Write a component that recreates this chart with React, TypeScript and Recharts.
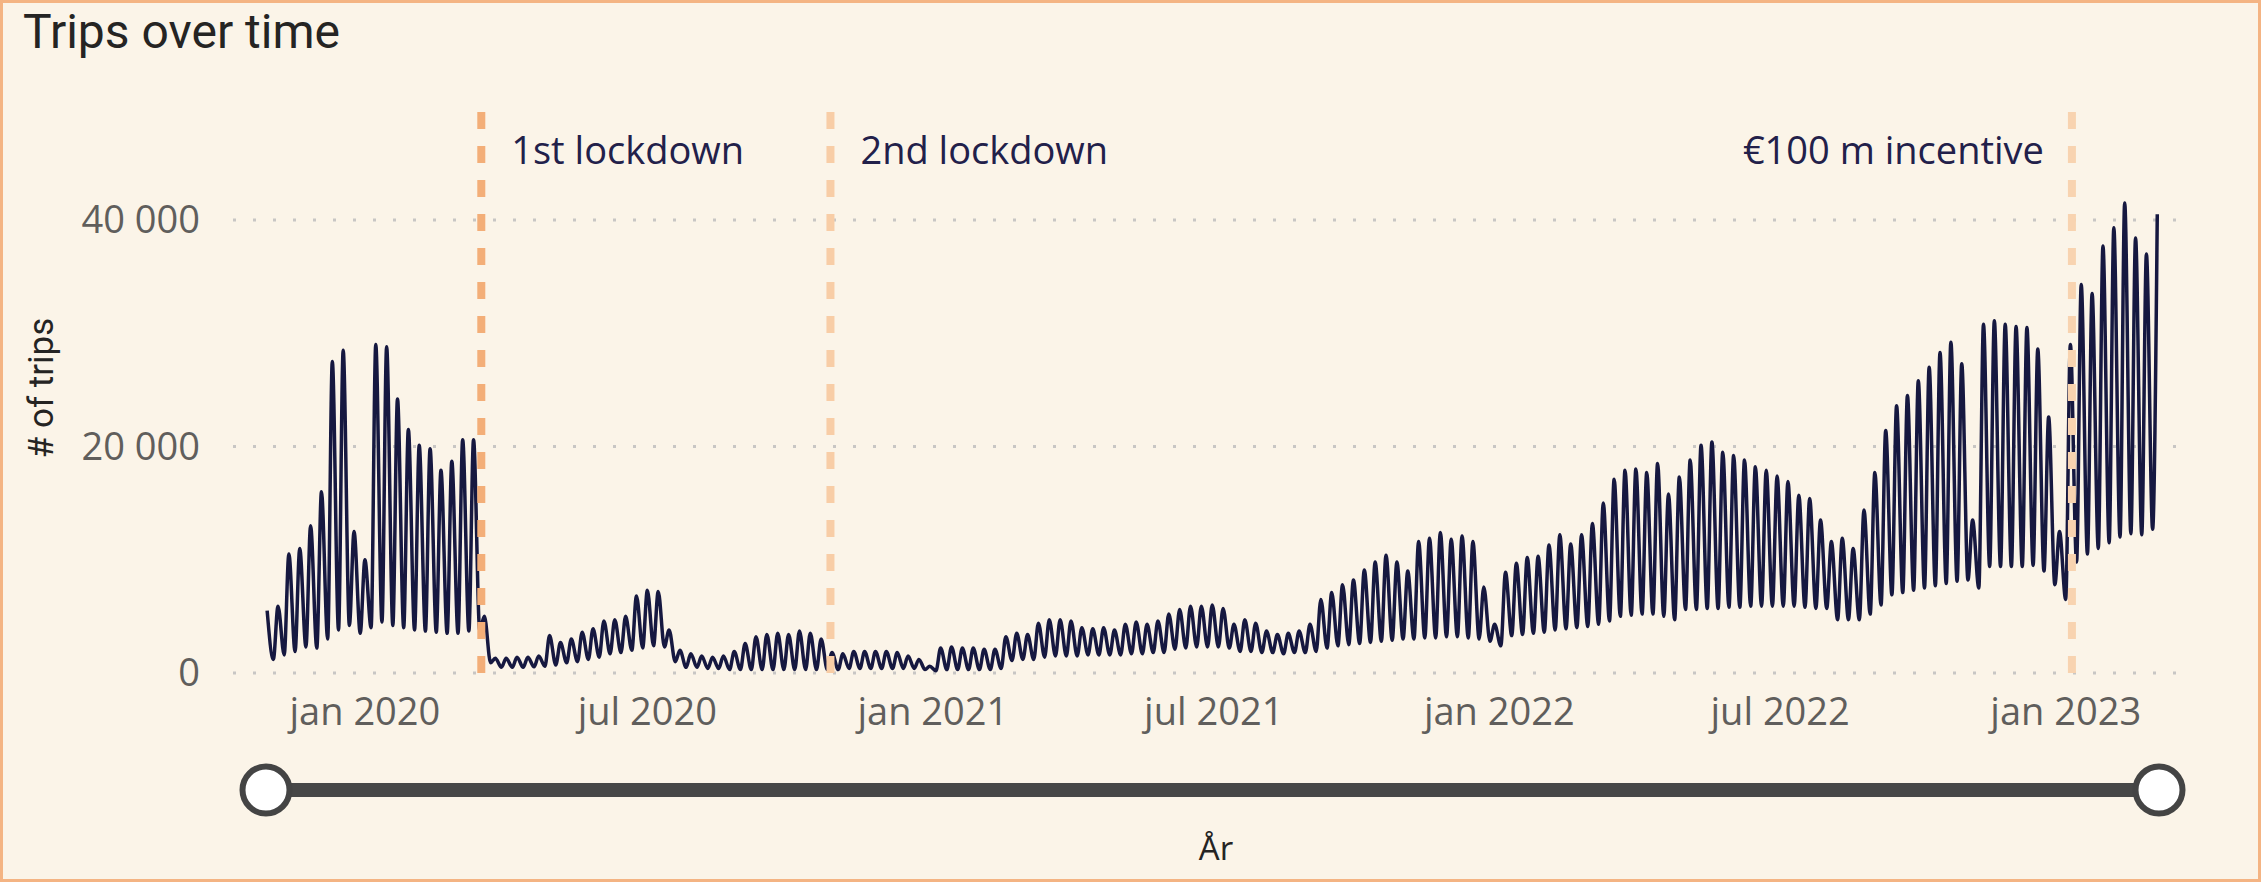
import React from 'react';
import {
  LineChart,
  Line,
  XAxis,
  YAxis,
  CartesianGrid,
  ReferenceLine,
} from 'recharts';

// weekly weekday peak / weekend low (weeks start on Monday, first one 28 Oct 2019)
const peaks2019 = [5500, 5900, 10500, 11000, 13000, 16000, 27500, 28500, 12500, 10000];
const lows2019 = [1200, 1600, 1900, 2300, 2200, 3000, 3800, 4200, 3500, 4000];

const peaks2020 = [
  29000, 28800, 24200, 21500, 20100, 19800, 17900, 18700, 20600, 20600,
  5000, 1300, 1300, 1400, 1400, 1500, 3300, 2700, 3000, 3600,
  3900, 4600, 4700, 5000, 6800, 7300, 7200, 3800, 2000, 1700,
  1500, 1400, 1500, 1900, 2600, 3200, 3400, 3500, 3400, 3700,
  3500, 3000, 1800, 1700, 1900, 1900, 1900, 1900, 1800, 1500,
  1200, 600,
];
const lows2020 = [
  4500, 4200, 4000, 3800, 3700, 3600, 3500, 3500, 3700, 3800,
  900, 500, 500, 500, 550, 600, 700, 900, 1000, 1200,
  1400, 1700, 1800, 2000, 2200, 2400, 2300, 1000, 500, 500,
  400, 400, 300, 300, 300, 300, 300, 300, 300, 300,
  300, 300, 300, 400, 400, 400, 400, 400, 400, 400,
  300, 200,
];

const peaks2021 = [
  2200, 2300, 2200, 2200, 2100, 2100, 3200, 3500, 3400, 4400,
  4700, 4700, 4600, 4000, 3900, 4000, 3800, 4300, 4500, 4300,
  4600, 5200, 5600, 5900, 5900, 6000, 5700, 4300, 4700, 4400,
  3700, 3400, 3500, 3700, 4300, 6500, 7100, 7800, 8200, 9100,
  9800, 10400, 9800, 9000, 11600, 11900, 12400, 11800, 12100, 11600,
  7600, 4300,
];
const lows2021 = [
  300, 300, 300, 300, 300, 400, 1100, 1200, 1200, 1400,
  1500, 1500, 1500, 1600, 1600, 1600, 1600, 1700, 1700, 1800,
  1800, 2100, 2200, 2300, 2300, 2300, 2200, 1900, 1900, 1800,
  1800, 1700, 1800, 1800, 1900, 2200, 2400, 2500, 2600, 2700,
  2800, 2900, 3000, 3000, 3100, 3100, 3200, 3200, 3100, 3000,
  2800, 2400,
];

const peaks2022 = [
  8900, 9700, 10200, 10300, 11300, 12200, 11400, 12200, 13200, 15000,
  17100, 17900, 18000, 17700, 18500, 15800, 17300, 18800, 20100, 20400,
  19500, 19200, 18800, 18200, 17900, 17400, 16900, 15700, 15400, 13500,
  11600, 11900, 11000, 14400, 17700, 21400, 23600, 24500, 25800, 27000,
  28300, 29200, 27300, 13500, 30800, 31100, 30800, 30600, 30500, 28600,
  22600, 12500,
];
const lows2022 = [
  3300, 3400, 3500, 3600, 3800, 3900, 4000, 4100, 4300, 4600,
  5000, 5100, 5200, 5200, 5000, 4700, 5600, 5600, 5700, 5700,
  5800, 5800, 5900, 5900, 5900, 5900, 5900, 5800, 5700, 5700,
  4700, 4700, 4700, 5200, 6000, 6900, 7100, 7300, 7500, 7700,
  7900, 8100, 8200, 7500, 9400, 9400, 9400, 9400, 9500, 9000,
  7800, 6500,
];

const peaks2023 = [29000, 34300, 33500, 37700, 39300, 41500, 38400, 37000, 40500];
const lows2023 = [9800, 10500, 11000, 11500, 12000, 12300, 12200, 12700];

const yTicks = [0, 20000, 40000];
const xTickDates = ['2020-01-01', '2020-07-01', '2021-01-01', '2021-07-01', '2022-01-01', '2022-07-01', '2023-01-01'];
const monthNames = ['jan', 'feb', 'mar', 'apr', 'mai', 'jun', 'jul', 'aug', 'sep', 'okt', 'nov', 'des'];

const events = [
  { date: '2020-03-16', text: '1st lockdown', side: 'right', color: '#F3AE78' },
  { date: '2020-10-27', text: '2nd lockdown', side: 'right', color: '#F8CDA6' },
  { date: '2023-01-05', text: '€100 m incentive', side: 'left', color: '#F8D3B0' },
];

const DAY = 86400000;
const toTs = (s: string) => Date.parse(s + 'T00:00:00Z');
const firstMonday = toTs('2019-10-28');

const peaks = [...peaks2019, ...peaks2020, ...peaks2021, ...peaks2022, ...peaks2023];
const lows = [...lows2019, ...lows2020, ...lows2021, ...lows2022, ...lows2023];

const rows: { t: number; trips: number }[] = [];
peaks.forEach((p, i) => {
  rows.push({ t: firstMonday + (i * 7 + 2) * DAY, trips: p });
  if (i < lows.length) rows.push({ t: firstMonday + (i * 7 + 6) * DAY, trips: lows[i] });
});

const xTicks = xTickDates.map(toTs);
const xDomain = [toTs('2019-10-08'), toTs('2023-03-15')];

const fmtDate = (v: number) => {
  const d = new Date(v);
  return `${monthNames[d.getUTCMonth()]} ${d.getUTCFullYear()}`;
};
const fmtNum = (v: number) => String(v).replace(/\B(?=(\d{3})+(?!\d))/g, ' ');

const tickFont = "'Open Sans', sans-serif";
const headFont = "Roboto, sans-serif";

const noteLabel = (text: string, side: string) => (props: any) => {
  const x = props.viewBox ? props.viewBox.x : 0;
  return (
    <text
      x={side === 'right' ? x + 30 : x - 28}
      y={164}
      textAnchor={side === 'right' ? 'start' : 'end'}
      fill="#22204A"
      fontSize={38}
      fontFamily={tickFont}
    >
      {text}
    </text>
  );
};

export default function App() {
  return (
    <div
      style={{
        position: 'absolute',
        left: 0,
        top: 0,
        width: 2261,
        height: 882,
        background: '#FBF4E8',
        overflow: 'hidden',
      }}
    >
      <div style={{ position: 'absolute', left: 0, top: 0 }}>
        <LineChart
          width={2261}
          height={882}
          data={rows}
          margin={{ top: 101, right: 82, left: 0, bottom: 149 }}
        >
          <CartesianGrid
            vertical={false}
            horizontalValues={yTicks}
            stroke="#C8C6C4"
            strokeWidth={3}
            strokeDasharray="3 17"
          />
          <XAxis
            dataKey="t"
            type="number"
            scale="time"
            domain={xDomain}
            ticks={xTicks}
            interval={0}
            allowDataOverflow
            tickFormatter={fmtDate}
            axisLine={false}
            tickLine={false}
            tickMargin={19}
            height={60}
            tick={{ fill: '#605E5C', fontSize: 38, fontFamily: tickFont }}
          />
          <YAxis
            domain={[0, 50500]}
            ticks={yTicks}
            interval={0}
            width={233}
            tickMargin={27}
            axisLine={false}
            tickLine={false}
            tickFormatter={fmtNum}
            tick={{ fill: '#605E5C', fontSize: 38, fontFamily: tickFont }}
          />
          <Line
            type="monotone"
            dataKey="trips"
            stroke="#161840"
            strokeWidth={3.5}
            dot={false}
            activeDot={false}
            isAnimationActive={false}
          />
          {events.map((e) => (
            <ReferenceLine
              key={e.text}
              x={toTs(e.date)}
              stroke={e.color}
              strokeWidth={8}
              strokeDasharray="17 17"
              label={noteLabel(e.text, e.side)}
            />
          ))}
        </LineChart>
      </div>

      <svg
        width={2261}
        height={882}
        style={{ position: 'absolute', left: 0, top: 0, pointerEvents: 'none' }}
      >
        <text x={23} y={48} fontSize={48} fontWeight={400} fontFamily={headFont} fill="#252423">
          Trips over time
        </text>
        <text
          x={41}
          y={388}
          transform="rotate(-90 41 388)"
          textAnchor="middle"
          dominantBaseline="central"
          fontSize={35}
          fontFamily={headFont}
          fill="#252423"
        >
          # of trips
        </text>
        <line x1={266} y1={790} x2={2159} y2={790} stroke="#474747" strokeWidth={14} />
        <circle cx={266} cy={790} r={23.5} fill="#ffffff" stroke="#444444" strokeWidth={6} />
        <circle cx={2159} cy={790} r={23.5} fill="#ffffff" stroke="#444444" strokeWidth={6} />
        <text x={1216} y={860} textAnchor="middle" fontSize={33} fontFamily={tickFont} fill="#252423">
          År
        </text>
      </svg>

      <div
        style={{
          position: 'absolute',
          left: 0,
          top: 0,
          width: 2261,
          height: 882,
          boxSizing: 'border-box',
          border: '3px solid #F4B483',
          pointerEvents: 'none',
        }}
      />
    </div>
  );
}
